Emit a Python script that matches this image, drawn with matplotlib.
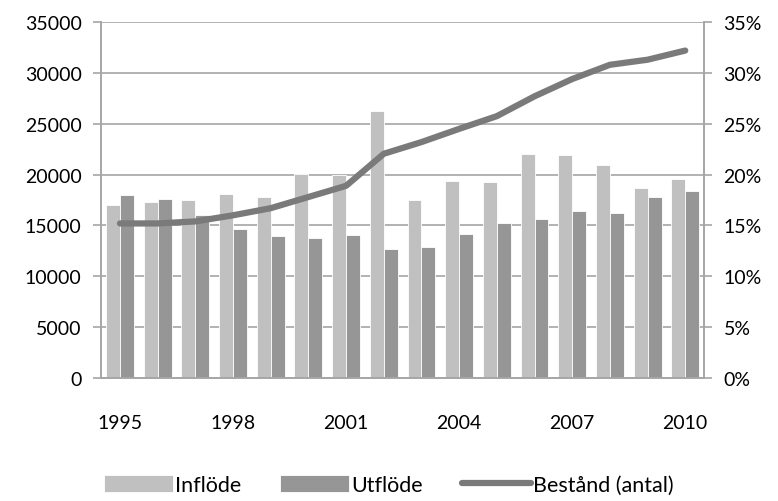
import matplotlib.pyplot as plt
import numpy as np
from matplotlib.ticker import FuncFormatter

years = list(range(1995, 2011))
inflode = [17000, 17350, 17500, 18050, 17800, 20050, 20000, 26300,
           17550, 19350, 19300, 22050, 21900, 20900, 18700, 19550]
utflode = [17950, 17650, 16000, 14650, 14000, 13800, 14100, 12650,
           12850, 14200, 15250, 15600, 16400, 16250, 17800, 18350]
bestand = [15200, 15200, 15400, 16000, 16700, 17800, 18900, 22050,
           23200, 24500, 25750, 27700, 29400, 30800, 31300, 32200]

plt.rcParams["font.family"] = ["Lato", "DejaVu Sans"]

GRID = "#a6a6a6"

fig = plt.figure(figsize=(7.78, 5.02), dpi=100)
ax = fig.add_axes([0.130, 0.245, 0.775, 0.709])
ax2 = ax.twinx()

x = np.arange(len(years))
w = 0.37
b1 = ax.bar(x - w / 2, inflode, width=w, color="#c0c0c0", edgecolor="white",
            linewidth=0.6, label="Inflöde", zorder=2)
b2 = ax.bar(x + w / 2, utflode, width=w, color="#969696", edgecolor="white",
            linewidth=0.6, label="Utflöde", zorder=2)
ln, = ax.plot(x, bestand, color="#7a7a7a", linewidth=4.5, solid_capstyle="round",
              label="Bestånd (antal)", zorder=3)

ax.set_xlim(-0.5, len(years) - 0.5)
ax.set_ylim(0, 35000)
ax.set_yticks(range(0, 35001, 5000))
ax.yaxis.grid(True, color=GRID, linewidth=1.2, zorder=0)
ax.set_axisbelow(True)

ticks = [i for i, yr in enumerate(years) if (yr - 1995) % 3 == 0]
ax.set_xticks(ticks)
ax.set_xticklabels([str(years[i]) for i in ticks])

ax2.set_ylim(0, 0.35)
ax2.set_yticks(np.arange(0, 0.351, 0.05))
ax2.yaxis.set_major_formatter(FuncFormatter(lambda v, p: f"{v * 100:.0f}%"))

for a in (ax, ax2):
    a.spines["top"].set_visible(False)
    for s in ("left", "right", "bottom"):
        a.spines[s].set_color(GRID)
        a.spines[s].set_linewidth(1.2)
    a.tick_params(axis="y", colors=GRID, labelcolor="black", labelsize=14,
                  length=6, width=1.2)
ax.tick_params(axis="x", length=0, labelsize=14, pad=26)
ax.tick_params(axis="y", pad=8)
ax2.tick_params(axis="y", pad=8)

fig.legend([b1, b2, ln], ["Inflöde", "Utflöde", "Bestånd (antal)"],
           loc="center", bbox_to_anchor=(0.5, 0.032), ncol=3,
           frameon=False, fontsize=15.5, handlelength=3.2, handleheight=0.8,
           handletextpad=0.1, columnspacing=1.8)

fig.savefig("out.png", dpi=100)
